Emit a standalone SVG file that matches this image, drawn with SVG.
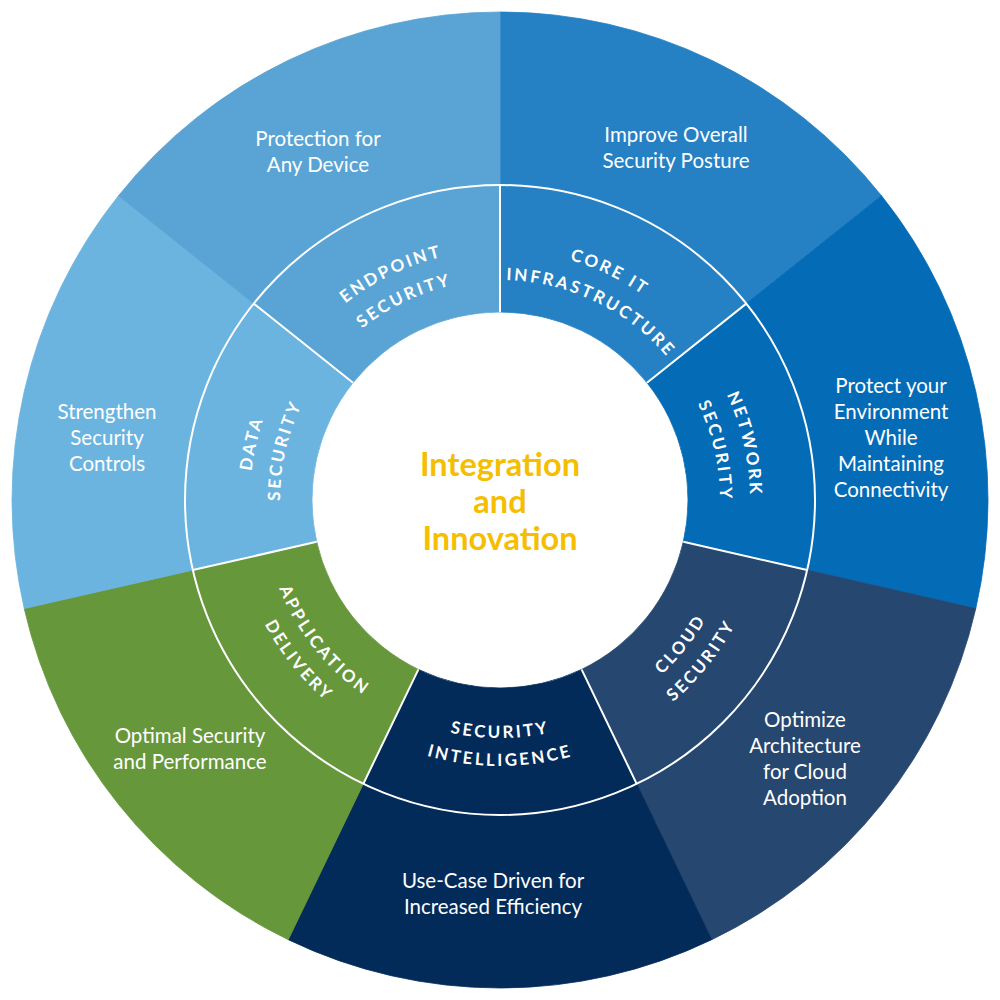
<svg xmlns="http://www.w3.org/2000/svg" xmlns:xlink="http://www.w3.org/1999/xlink" width="1000" height="1000" viewBox="0 0 1000 1000">
<style>
.ring{font-family:Lato,"Liberation Sans",sans-serif;font-weight:700;font-size:17px;letter-spacing:2.6px;fill:#fff}
.desc{font-family:Lato,"Liberation Sans",sans-serif;font-weight:400;font-size:20.5px;fill:#fff;text-anchor:middle}
.center{font-family:Lato,"Liberation Sans",sans-serif;font-weight:700;font-size:32.5px;fill:#f5be00;text-anchor:middle}
.div{stroke:#fff;stroke-width:2;fill:none}
</style>
<defs>
<path id="pEnd1" d="M293.44,359.17 A250,250 0 0 1 518.68,250.70"/>
<path id="pEnd2" d="M318.23,376.07 A220,220 0 0 1 516.44,280.62"/>
<path id="pCore1" d="M481.32,250.70 A250,250 0 0 1 706.56,359.17"/>
<path id="pCore2" d="M483.56,280.62 A220,220 0 0 1 681.77,376.07"/>
<path id="pNet1" d="M683.26,329.96 A250,250 0 0 1 738.89,573.69"/>
<path id="pNet2" d="M661.27,350.36 A220,220 0 0 1 710.23,564.85"/>
<path id="pData1" d="M261.11,573.69 A250,250 0 0 1 316.74,329.96"/>
<path id="pData2" d="M289.77,564.85 A220,220 0 0 1 338.73,350.36"/>
<path id="pCloud1" d="M586.95,721.55 A238,238 0 0 0 735.34,535.47"/>
<path id="pCloud2" d="M597.18,747.61 A266,266 0 0 0 763.03,539.64"/>
<path id="pSec1" d="M381,706.11 A238,238 0 0 0 619,706.11"/>
<path id="pSec2" d="M367,730.36 A266,266 0 0 0 633,730.36"/>
<path id="pApp1" d="M264.66,535.47 A238,238 0 0 0 413.05,721.55"/>
<path id="pApp2" d="M236.97,539.64 A266,266 0 0 0 402.82,747.61"/>
</defs>
<rect width="1000" height="1000" fill="#fff"/>

<g id="core-it-infrastructure">
<path d="M500,12 A488,488 0 0 1 881.53,195.74 L646.98,382.78 A188,188 0 0 0 500,312 Z" fill="#2581c4" stroke="#2581c4" stroke-width="0.8"/>
<text class="ring"><textPath xlink:href="#pCore1" href="#pCore1" startOffset="50%" text-anchor="middle">CORE IT</textPath></text>
<text class="ring"><textPath xlink:href="#pCore2" href="#pCore2" startOffset="50%" text-anchor="middle">INFRASTRUCTURE</textPath></text>
<text class="desc" x="676" y="142">Improve Overall</text>
<text class="desc" x="676" y="168">Security Posture</text>
</g>

<g id="network-security">
<path d="M881.53,195.74 A488,488 0 0 1 975.77,608.59 L683.29,541.83 A188,188 0 0 0 646.98,382.78 Z" fill="#046bb6" stroke="#046bb6" stroke-width="0.8"/>
<text class="ring"><textPath xlink:href="#pNet1" href="#pNet1" startOffset="50%" text-anchor="middle">NETWORK</textPath></text>
<text class="ring"><textPath xlink:href="#pNet2" href="#pNet2" startOffset="50%" text-anchor="middle">SECURITY</textPath></text>
<text class="desc" x="891" y="393">Protect your</text>
<text class="desc" x="891" y="419">Environment</text>
<text class="desc" x="891" y="445">While</text>
<text class="desc" x="891" y="471">Maintaining</text>
<text class="desc" x="891" y="497">Connectivity</text>
</g>

<g id="cloud-security">
<path d="M975.77,608.59 A488,488 0 0 1 711.73,939.67 L581.57,669.38 A188,188 0 0 0 683.29,541.83 Z" fill="#26476f" stroke="#26476f" stroke-width="0.8"/>
<text class="ring"><textPath xlink:href="#pCloud1" href="#pCloud1" startOffset="50%" text-anchor="middle">CLOUD</textPath></text>
<text class="ring"><textPath xlink:href="#pCloud2" href="#pCloud2" startOffset="50%" text-anchor="middle">SECURITY</textPath></text>
<text class="desc" x="805" y="727">Optimize</text>
<text class="desc" x="805" y="753">Architecture</text>
<text class="desc" x="805" y="779">for Cloud</text>
<text class="desc" x="805" y="805">Adoption</text>
</g>

<g id="security-intelligence">
<path d="M711.73,939.67 A488,488 0 0 1 288.27,939.67 L418.43,669.38 A188,188 0 0 0 581.57,669.38 Z" fill="#022b59" stroke="#022b59" stroke-width="0.8"/>
<text class="ring"><textPath xlink:href="#pSec1" href="#pSec1" startOffset="50%" text-anchor="middle">SECURITY</textPath></text>
<text class="ring"><textPath xlink:href="#pSec2" href="#pSec2" startOffset="50%" text-anchor="middle">INTELLIGENCE</textPath></text>
<text class="desc" x="493" y="888">Use-Case Driven for</text>
<text class="desc" x="493" y="914">Increased Efficiency</text>
</g>

<g id="application-delivery">
<path d="M288.27,939.67 A488,488 0 0 1 24.23,608.59 L316.71,541.83 A188,188 0 0 0 418.43,669.38 Z" fill="#66973b" stroke="#66973b" stroke-width="0.8"/>
<text class="ring"><textPath xlink:href="#pApp1" href="#pApp1" startOffset="50%" text-anchor="middle">APPLICATION</textPath></text>
<text class="ring"><textPath xlink:href="#pApp2" href="#pApp2" startOffset="50%" text-anchor="middle">DELIVERY</textPath></text>
<text class="desc" x="190" y="743">Optimal Security</text>
<text class="desc" x="190" y="769">and Performance</text>
</g>

<g id="data-security">
<path d="M24.23,608.59 A488,488 0 0 1 118.47,195.74 L353.02,382.78 A188,188 0 0 0 316.71,541.83 Z" fill="#6cb4e0" stroke="#6cb4e0" stroke-width="0.8"/>
<text class="ring"><textPath xlink:href="#pData1" href="#pData1" startOffset="50%" text-anchor="middle">DATA</textPath></text>
<text class="ring"><textPath xlink:href="#pData2" href="#pData2" startOffset="50%" text-anchor="middle">SECURITY</textPath></text>
<text class="desc" x="107" y="419">Strengthen</text>
<text class="desc" x="107" y="445">Security</text>
<text class="desc" x="107" y="471">Controls</text>
</g>

<g id="endpoint-security">
<path d="M118.47,195.74 A488,488 0 0 1 500,12 L500,312 A188,188 0 0 0 353.02,382.78 Z" fill="#59a4d4" stroke="#59a4d4" stroke-width="0.8"/>
<text class="ring"><textPath xlink:href="#pEnd1" href="#pEnd1" startOffset="50%" text-anchor="middle">ENDPOINT</textPath></text>
<text class="ring"><textPath xlink:href="#pEnd2" href="#pEnd2" startOffset="50%" text-anchor="middle">SECURITY</textPath></text>
<text class="desc" x="318" y="146">Protection for</text>
<text class="desc" x="318" y="172">Any Device</text>
</g>

<g id="dividers">
<circle class="div" cx="500" cy="500" r="315"/>
<path class="div" d="M500,312 L500,185 M646.98,382.78 L746.28,303.60 M683.29,541.83 L807.10,570.09 M581.57,669.38 L636.67,783.81 M418.43,669.38 L363.33,783.81 M316.71,541.83 L192.90,570.09 M353.02,382.78 L253.72,303.60"/>
</g>

<g id="center">
<circle cx="500" cy="500" r="187" fill="#fff"/>
<text class="center" x="500" y="476">Integration</text>
<text class="center" x="500" y="513">and</text>
<text class="center" x="500" y="550">Innovation</text>
</g>
</svg>
